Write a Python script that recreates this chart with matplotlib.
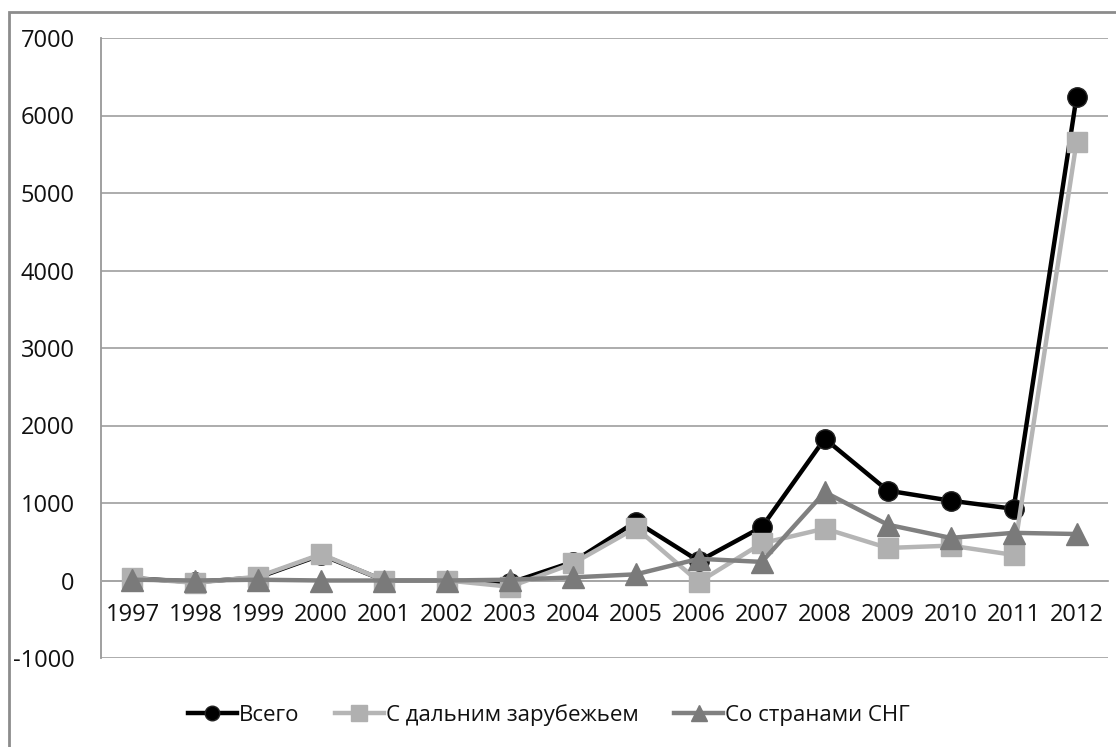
import matplotlib
matplotlib.use("Agg")
import matplotlib.pyplot as plt
from matplotlib.patches import Rectangle

years = ["1997", "1998", "1999", "2000", "2001", "2002", "2003", "2004",
         "2005", "2006", "2007", "2008", "2009", "2010", "2011", "2012"]
total = [30, -20, 40, 330, 0, 0, -30, 240, 760, 250, 690, 1830, 1160, 1030, 925, 6240]
far_abroad = [30, -30, 50, 340, 0, 0, -80, 220, 680, -20, 480, 670, 420, 450, 330, 5660]
cis = [10, 0, 10, 0, 0, 0, 10, 40, 80, 280, 240, 1140, 720, 550, 615, 600]
series_names = ["Всего", "С дальним зарубежьем", "Со странами СНГ"]
yticks = [-1000, 0, 1000, 2000, 3000, 4000, 5000, 6000, 7000]

plt.rcParams['font.family'] = ['Open Sans', 'DejaVu Sans']
FS = 17

fig = plt.figure(figsize=(11.16, 7.47), dpi=100)
fig.patch.set_facecolor("white")
fig.patches.append(Rectangle((9 / 1116, -0.5), 1.5, 1.5 - 12 / 747,
                             transform=fig.transFigure, fill=False,
                             edgecolor="#8c8c8c", linewidth=2.0, zorder=0))

ax = fig.add_axes([101 / 1116, 1 - 658 / 747, (1108 - 101) / 1116, (658 - 38) / 747])
ax.spines["bottom"].set_position(("data", 0))
x = list(range(len(years)))

ax.plot(x, total, color="black", lw=3.2, marker="o", markersize=14,
        markerfacecolor="black", markeredgecolor="#222222", label=series_names[0], zorder=3)
ax.plot(x, far_abroad, color="#b5b5b5", lw=3.2, marker="s", markersize=15,
        markerfacecolor="#b0b0b0", markeredgecolor="#b0b0b0", label=series_names[1], zorder=4)
ax.plot(x, cis, color="#808080", lw=3.2, marker="^", markersize=16,
        markerfacecolor="#7a7a7a", markeredgecolor="#7a7a7a", label=series_names[2], zorder=5)

ax.set_xlim(-0.5, len(years) - 0.5)
ax.set_ylim(-1000, 7000)
ax.set_yticks(yticks)
ax.set_yticklabels([str(v) for v in yticks], fontsize=FS, color="#111111")
ax.set_xticks(x)
ax.set_xticklabels(years, fontsize=FS, color="#111111")
ax.yaxis.grid(True, color="#a6a6a6", linewidth=1.3)
ax.set_axisbelow(True)
for s in ["top", "right"]:
    ax.spines[s].set_visible(False)
ax.spines["bottom"].set_color("#a6a6a6")
ax.spines["bottom"].set_linewidth(1.3)
ax.spines["left"].set_color("#999999")
ax.spines["left"].set_linewidth(1.3)
ax.tick_params(axis="y", length=0, pad=19)
ax.tick_params(axis="x", length=0, pad=16)

leg = fig.legend(loc="center", bbox_to_anchor=(549 / 1116, 1 - 715 / 747), ncol=3,
                 frameon=False, fontsize=16, handlelength=2.2, handletextpad=0.1,
                 columnspacing=1.6, markerscale=0.75)
for t in leg.get_texts():
    t.set_color("#111111")

fig.savefig("out.png", dpi=100, facecolor="white")
